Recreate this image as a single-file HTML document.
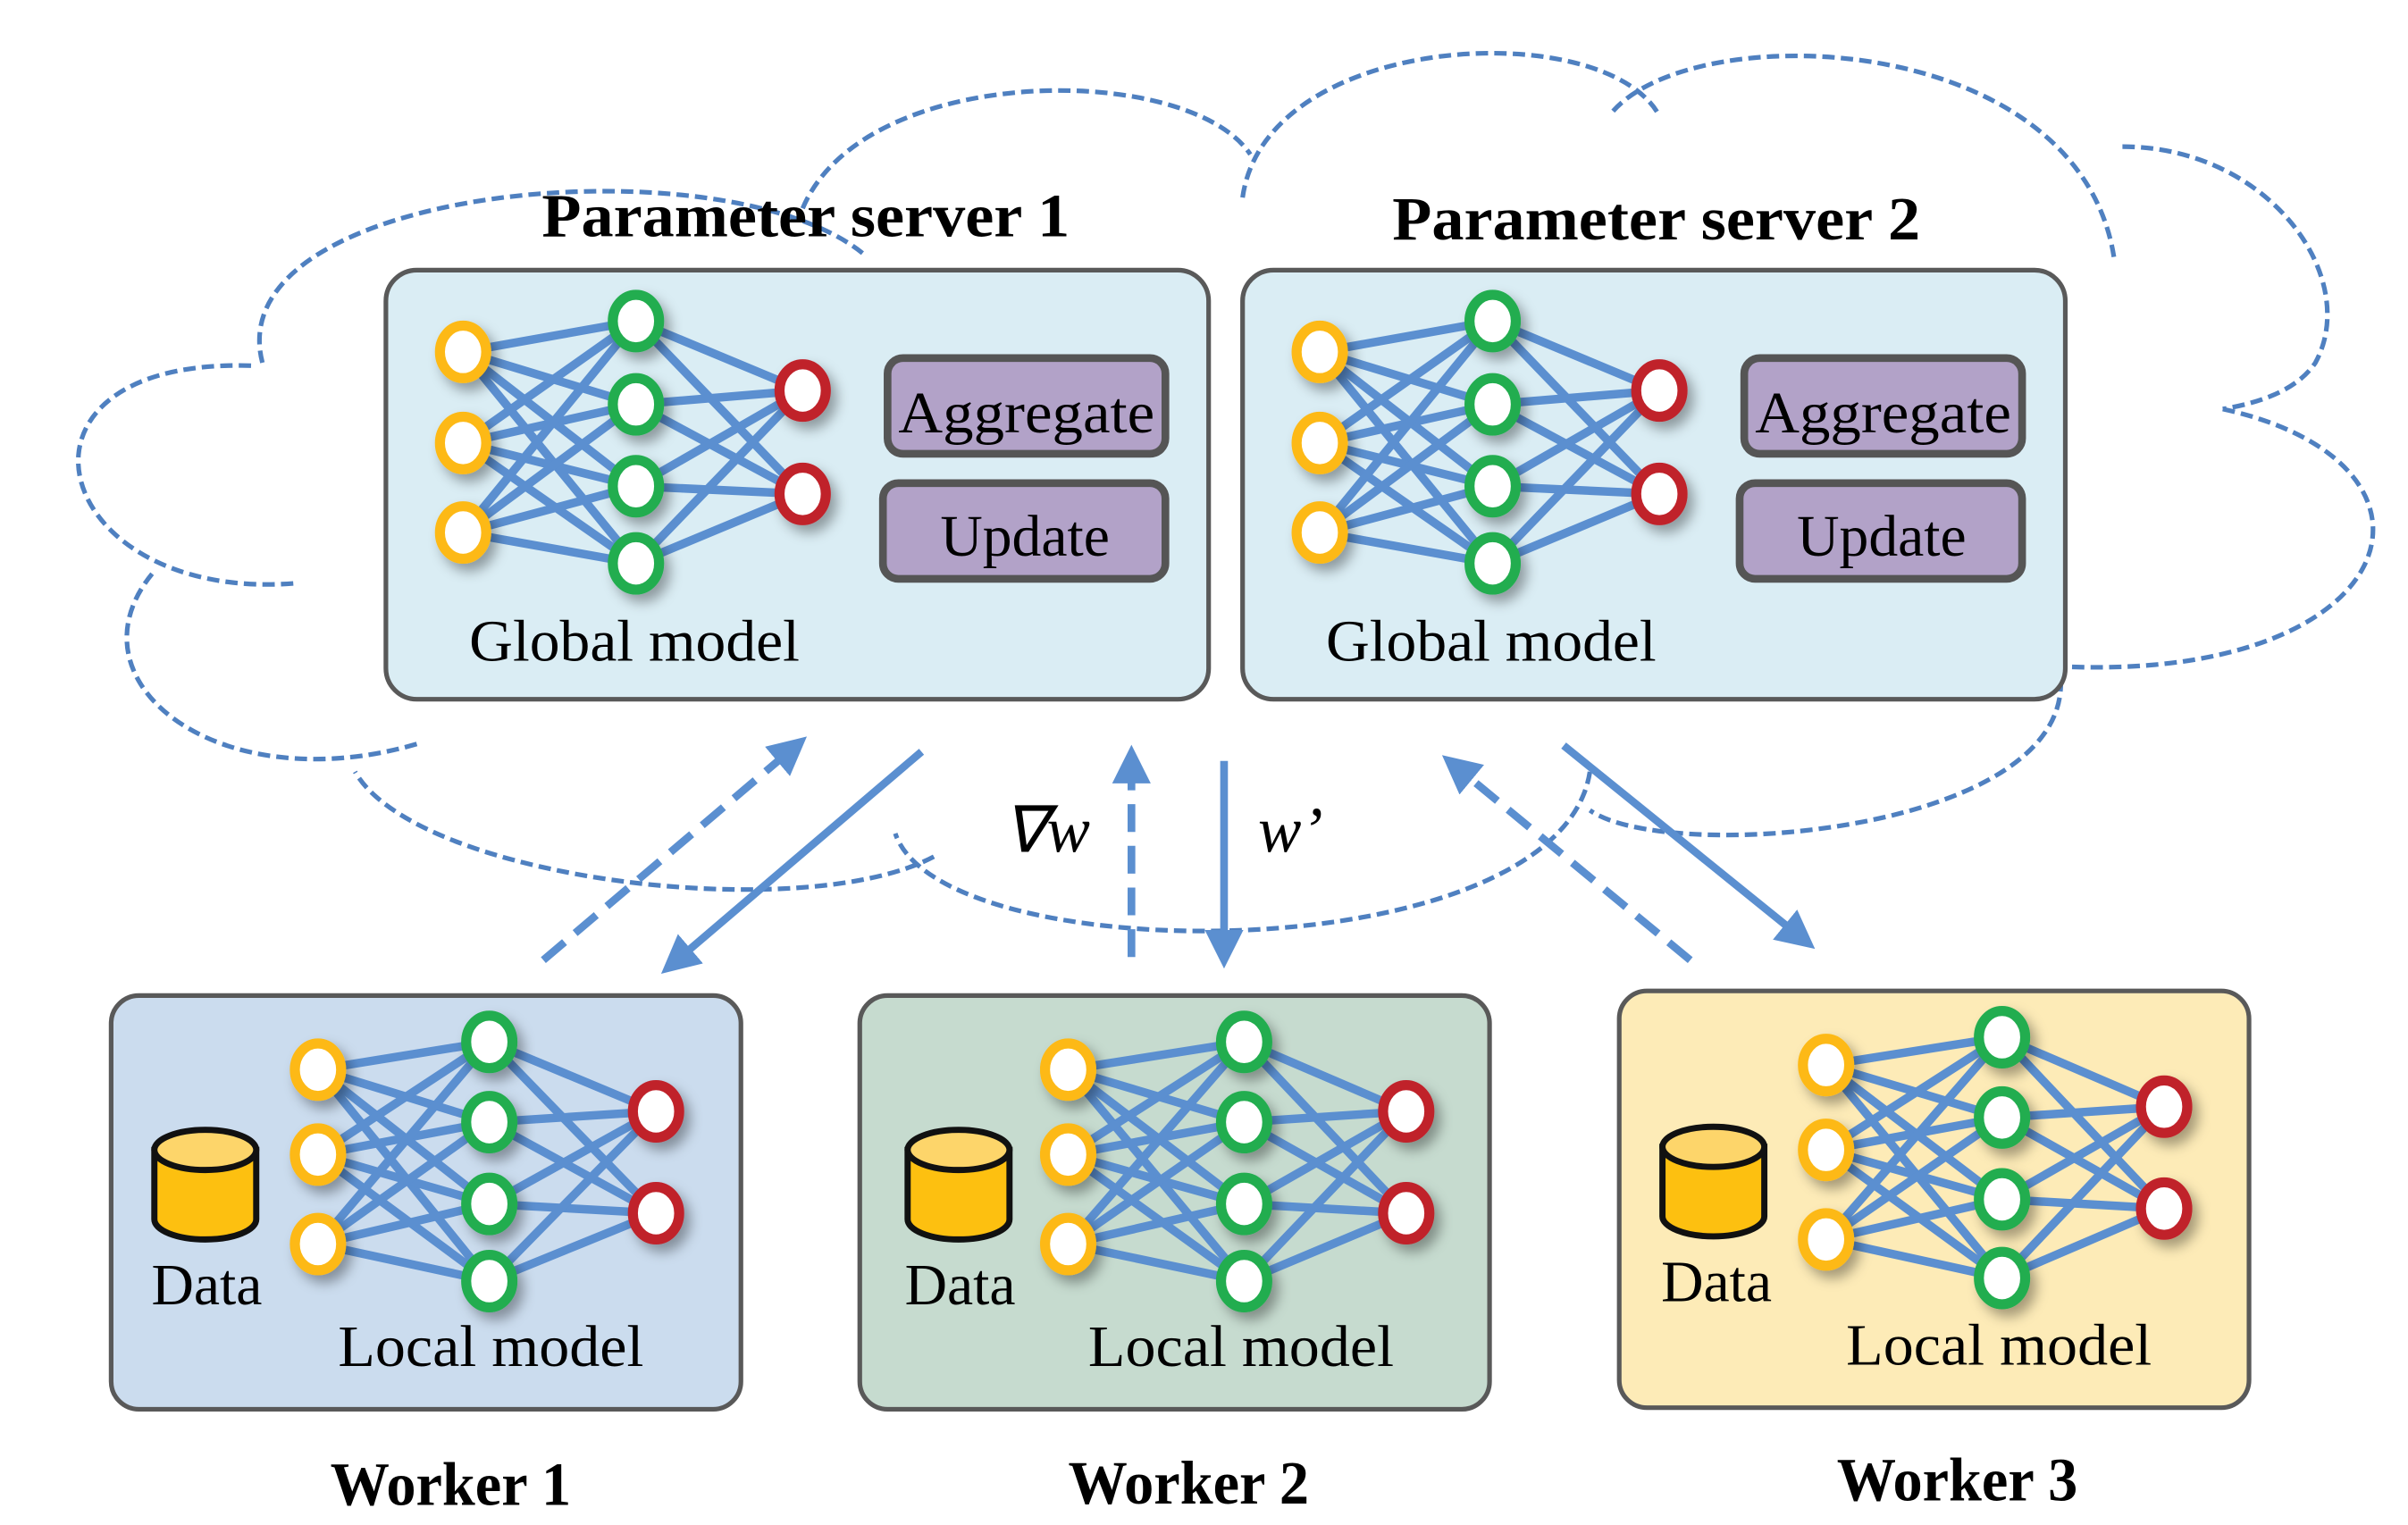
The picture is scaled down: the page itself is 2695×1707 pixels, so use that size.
<!DOCTYPE html>
<html><head><meta charset="utf-8"><style>
html,body{margin:0;padding:0;background:#fff}
svg{display:block}
text{font-family:"Liberation Serif",serif}
</style></head><body>
<svg width="2695" height="1707" viewBox="0 0 1560 988" preserveAspectRatio="none" xmlns="http://www.w3.org/2000/svg">
<defs>
<marker id="ah" markerWidth="5" markerHeight="5" refX="3.5" refY="2.5" orient="auto" markerUnits="strokeWidth">
<path d="M0,0 L5,2.5 L0,5 z" fill="#5b8fd0"/></marker>
<filter id="sh" x="-50%" y="-50%" width="200%" height="200%"><feDropShadow dx="4" dy="5" stdDeviation="4" flood-color="#000" flood-opacity="0.35"/></filter>
</defs>
<g fill="none" stroke="#4f80c0" stroke-width="3" stroke-dasharray="8,4">
<path d="M170,235 C140,120 470,90 560,165"/>
<path d="M520,135 C560,40 770,40 810,100"/>
<path d="M805,128 C820,20 1040,10 1075,75"/>
<path d="M1045,72 C1100,10 1350,20 1370,170"/>
<path d="M1375,95 C1470,95 1530,180 1500,235 C1490,250 1470,260 1440,265"/>
<path d="M1440,265 C1600,300 1560,440 1340,432"/>
<path d="M1335,440 C1340,540 1080,560 1030,525"/>
<path d="M1030,500 C1010,630 610,630 580,540"/>
<path d="M605,555 C520,600 270,570 230,500"/>
<path d="M270,482 C140,520 40,440 100,370"/>
<path d="M190,378 C30,390 -10,230 165,237"/>
</g>
<rect x="250" y="175" width="533" height="278" rx="20" fill="#daedf4" stroke="#595959" stroke-width="3"/>
<rect x="805" y="175" width="533" height="278" rx="20" fill="#daedf4" stroke="#595959" stroke-width="3"/>
<rect x="72" y="645" width="408" height="268" rx="18" fill="#cbdcee" stroke="#595959" stroke-width="3"/>
<rect x="557" y="645" width="408" height="268" rx="18" fill="#c6dbcf" stroke="#595959" stroke-width="3"/>
<rect x="1049" y="642" width="408" height="270" rx="18" fill="#fdebb7" stroke="#595959" stroke-width="3"/>
<g font-weight="bold" font-size="40" text-anchor="middle">
<text x="522" y="153" textLength="342" lengthAdjust="spacingAndGlyphs">Parameter  server 1</text>
<text x="1073" y="155" textLength="342" lengthAdjust="spacingAndGlyphs">Parameter  server 2</text>
<text x="292" y="975" textLength="156" lengthAdjust="spacingAndGlyphs">Worker 1</text>
<text x="770" y="974" textLength="156" lengthAdjust="spacingAndGlyphs">Worker 2</text>
<text x="1268" y="972" textLength="156" lengthAdjust="spacingAndGlyphs">Worker 3</text>
</g>
<g stroke="#555" stroke-width="5" fill="#b2a2c8">
<rect x="575" y="232" width="180" height="62" rx="10"/>
<rect x="572" y="313" width="183" height="62" rx="10"/>
<rect x="1130" y="232" width="180" height="62" rx="10"/>
<rect x="1127" y="313" width="183" height="62" rx="10"/>
</g>
<g font-size="38" text-anchor="middle">
<text x="665" y="280" textLength="166" lengthAdjust="spacingAndGlyphs">Aggregate</text>
<text x="664" y="360">Update</text>
<text x="1220" y="280" textLength="166" lengthAdjust="spacingAndGlyphs">Aggregate</text>
<text x="1219" y="360">Update</text>
<text x="411" y="428" textLength="214" lengthAdjust="spacingAndGlyphs">Global model</text>
<text x="966" y="428" textLength="214" lengthAdjust="spacingAndGlyphs">Global model</text>
<text x="318" y="885" textLength="198" lengthAdjust="spacingAndGlyphs">Local model</text>
<text x="804" y="885" textLength="198" lengthAdjust="spacingAndGlyphs">Local model</text>
<text x="1295" y="884" textLength="198" lengthAdjust="spacingAndGlyphs">Local model</text>
<text x="134" y="845">Data</text>
<text x="622" y="845">Data</text>
<text x="1112" y="843">Data</text>
</g>
<g stroke="#111" stroke-width="4">
<path d="M100,745 L100,790 A33,13 0 0 0 166,790 L166,745 Z" fill="#fdc010"/>
<ellipse cx="133" cy="745" rx="33" ry="13" fill="#fdd56a"/>
<path d="M588,745 L588,790 A33,13 0 0 0 654,790 L654,745 Z" fill="#fdc010"/>
<ellipse cx="621" cy="745" rx="33" ry="13" fill="#fdd56a"/>
<path d="M1077,743 L1077,788 A33,13 0 0 0 1143,788 L1143,743 Z" fill="#fdc010"/>
<ellipse cx="1110" cy="743" rx="33" ry="13" fill="#fdd56a"/>
</g>
<g id="nets"></g>
<g stroke="#5b8fd0" stroke-width="5" fill="none">
<line x1="352" y1="622" x2="517" y2="482" stroke-dasharray="18,9" marker-end="url(#ah)"/>
<line x1="597" y1="487" x2="434" y2="626" marker-end="url(#ah)"/>
<line x1="733" y1="620" x2="733" y2="490" stroke-dasharray="18,9" marker-end="url(#ah)"/>
<line x1="793" y1="493" x2="793" y2="620" marker-end="url(#ah)"/>
<line x1="1095" y1="622" x2="940" y2="494" stroke-dasharray="18,9" marker-end="url(#ah)"/>
<line x1="1013" y1="483" x2="1170" y2="610" marker-end="url(#ah)"/>
</g>
<g font-size="42" font-style="italic">
<text x="650" y="552">∇w</text>
<text x="815" y="552">w’</text>
</g>
</svg>
<script>
(function(){
var ns="http://www.w3.org/2000/svg",g=document.getElementById("nets");
function el(t,a){var e=document.createElementNS(ns,t);for(var k in a)e.setAttribute(k,a[k]);g.appendChild(e);return e;}
function net(ix,iy,hx,hy,ox,oy){
 var I=iy.map(function(y){return[ix,y]}),H=hy.map(function(y){return[hx,y]}),O=oy.map(function(y){return[ox,y]});
 I.forEach(function(a){H.forEach(function(b){el("line",{x1:a[0],y1:a[1],x2:b[0],y2:b[1],stroke:"#5b8fd0","stroke-width":5.5})})});
 H.forEach(function(a){O.forEach(function(b){el("line",{x1:a[0],y1:a[1],x2:b[0],y2:b[1],stroke:"#5b8fd0","stroke-width":5.5})})});
 function nd(p,c){el("ellipse",{cx:p[0],cy:p[1],rx:15,ry:17,fill:"#fff",stroke:c,"stroke-width":6.5,filter:"url(#sh)"})}
 I.forEach(function(p){nd(p,"#fdb913")});H.forEach(function(p){nd(p,"#22ad4f")});O.forEach(function(p){nd(p,"#c0202a")});
}
net(300,[228,287,345],412,[208,262,315,365],520,[253,320]);
net(855,[228,287,345],967,[208,262,315,365],1075,[253,320]);
net(206,[693,748,806],317,[675,727,780,830],425,[720,786]);
net(692,[693,748,806],806,[675,727,780,830],911,[720,786]);
net(1183,[690,745,803],1297,[672,724,777,828],1402,[717,783]);
})();
</script>
</body></html>
